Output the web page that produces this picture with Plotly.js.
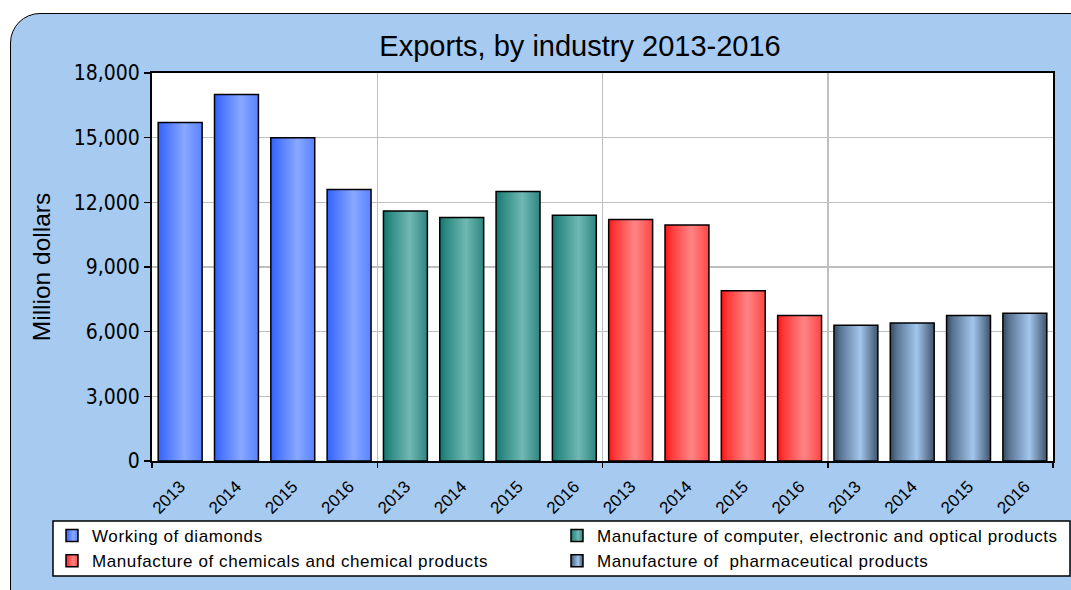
<!DOCTYPE html>
<html>
<head>
<meta charset="utf-8">
<script src="https://cdn.plot.ly/plotly-3.0.1.min.js"></script>
<style>
  html, body { margin: 0; padding: 0; width: 1071px; height: 590px; overflow: hidden; background: #ffffff; }
  #frame { position: absolute; left: 10px; top: 13px; width: 1090px; height: 610px;
           border: 1.5px solid #000; border-radius: 30px; background: #A6CAF0; box-sizing: border-box; }
  #chart { position: absolute; left: 0; top: 0; width: 1071px; height: 590px; }
  #chart .legendtext { letter-spacing: 0.6px; }
</style>
</head>
<body>
<div id="frame"></div>
<div id="chart"></div>
<script>
// ---- data ----
const years = ['2013', '2014', '2015', '2016'];
const industries = [
  'Working of diamonds',
  'Manufacture of computer, electronic and optical products',
  'Manufacture of chemicals and chemical products',
  'Manufacture of \u00a0pharmaceutical products'
];
const diamonds  = [15700, 17000, 15000, 12600];
const computers = [11600, 11300, 12500, 11400];
const chemicals = [11200, 10950, 7900, 6750];
const pharma    = [6300, 6400, 6750, 6850];
const seriesValues = [diamonds, computers, chemicals, pharma];

// ---- styling ----
const baseColors = ['#6A90FF', '#4FA39D', '#FF6060', '#8AAAD0'];
const gradientStops = [
  [[0, '#3060FF'], [0.12, '#4470FF'], [0.6, '#88A8FF'], [1, '#5A82FF']],
  [[0, '#117470'], [0.12, '#2A8780'], [0.6, '#70B8B3'], [1, '#2E8580']],
  [[0, '#FF1010'], [0.12, '#FF3535'], [0.6, '#FF8585'], [1, '#FF4545']],
  [[0, '#34485F'], [0.15, '#5A7594'], [0.6, '#A3C6EE'], [1, '#3F546C']]
];

const nPer = years.length;
const traces = seriesValues.map((vals, k) => ({
  type: 'bar',
  name: industries[k],
  x: vals.map((v, j) => k * nPer + j),
  y: vals,
  marker: { color: baseColors[k], line: { color: '#000', width: 1.5 } },
  hoverinfo: 'skip'
}));

const allIdx = [];
const allText = [];
seriesValues.forEach((vals, k) => vals.forEach((v, j) => { allIdx.push(k * nPer + j); allText.push(years[j]); }));
const total = allIdx.length;
const boundaries = [];
for (let k = 0; k <= seriesValues.length; k++) boundaries.push(k * nPer - 0.5);

// plot area in pixels: x 152..1053, y 73..461
const plotW = 901, plotH = 388, plotL = 152, plotB = 461;
const px2x = p => (p - plotL) / plotW;
const px2y = p => (plotB - p) / plotH;

const layout = {
  width: 1071, height: 590, autosize: false,
  margin: { l: 152, r: 18, t: 73, b: 129, autoexpand: false },
  paper_bgcolor: 'rgba(0,0,0,0)',
  plot_bgcolor: '#ffffff',
  barmode: 'overlay',
  bargap: 0.22,
  showlegend: true,
  title: {
    text: 'Exports, by industry 2013-2016',
    font: { family: 'Liberation Sans, Arial, sans-serif', size: 29, color: '#000' },
    xref: 'container', x: 580 / 1071, xanchor: 'center',
    yref: 'container', y: 1 - 46 / 590, yanchor: 'middle'
  },
  font: { family: 'Liberation Sans, Arial, sans-serif', color: '#000' },
  xaxis: {
    type: 'linear', range: [-0.5, total - 0.5],
    tickmode: 'array', tickvals: allIdx, ticktext: allText,
    tickangle: -45, ticks: '', showgrid: false, zeroline: false,
    ticklabelstandoff: 7,
    tickfont: { family: 'Liberation Sans, Arial, sans-serif', size: 17, color: '#000' },
    showline: true, linecolor: '#000', linewidth: 2, mirror: true,
    minor: {
      tickmode: 'array', tickvals: boundaries,
      ticks: 'outside', ticklen: 5, tickwidth: 1.5, tickcolor: '#000',
      showgrid: true, gridcolor: '#BEBEBE', gridwidth: 1.5
    }
  },
  yaxis: {
    range: [0, 18000], dtick: 3000, tick0: 0, tickformat: ',d',
    ticks: 'outside', ticklen: 6, tickwidth: 1.5, tickcolor: '#000',
    tickfont: { family: 'DejaVu Sans Condensed, DejaVu Sans, sans-serif', size: 21, color: '#000' },
    showgrid: true, gridcolor: '#BEBEBE', gridwidth: 1.5, zeroline: false,
    showline: true, linecolor: '#000', linewidth: 2, mirror: true,
    title: { text: 'Million dollars', font: { family: 'Liberation Sans, Arial, sans-serif', size: 24.5, color: '#000' }, standoff: 16 }
  },
  shapes: [{
    type: 'rect', xref: 'paper', yref: 'paper', layer: 'above',
    x0: px2x(53), x1: px2x(1070), y0: px2y(521), y1: px2y(576),
    fillcolor: '#ffffff', line: { color: '#000', width: 1.5 }
  }],
  legend: {
    orientation: 'h', traceorder: 'normal',
    x: px2x(52), xanchor: 'left',
    y: px2y(518), yanchor: 'top',
    bgcolor: 'rgba(0,0,0,0)', borderwidth: 0,
    font: { family: 'Liberation Sans, Arial, sans-serif', size: 17, color: '#000' },
    entrywidthmode: 'pixels', entrywidth: 460
  }
};

const gd = document.getElementById('chart');
Plotly.newPlot(gd, traces, layout, { staticPlot: true, displayModeBar: false }).then(() => {
  const ns = 'http://www.w3.org/2000/svg';
  const svg = gd.querySelector('svg.main-svg');
  let defs = svg.querySelector('defs');
  if (!defs) { defs = document.createElementNS(ns, 'defs'); svg.insertBefore(defs, svg.firstChild); }
  gradientStops.forEach((stops, i) => {
    const lg = document.createElementNS(ns, 'linearGradient');
    lg.setAttribute('id', 'barGrad' + i);
    lg.setAttribute('x1', '0'); lg.setAttribute('y1', '0');
    lg.setAttribute('x2', '1'); lg.setAttribute('y2', '0');
    stops.forEach(([o, c]) => {
      const s = document.createElementNS(ns, 'stop');
      s.setAttribute('offset', o);
      s.setAttribute('stop-color', c);
      lg.appendChild(s);
    });
    defs.appendChild(lg);
  });
  gd.querySelectorAll('.barlayer .trace').forEach((t, i) => {
    t.querySelectorAll('path').forEach(p => { p.style.fill = 'url(#barGrad' + i + ')'; });
  });
  gd.querySelectorAll('.legend .traces').forEach((t, i) => {
    t.querySelectorAll('.legendpoints path').forEach(p => { p.style.fill = 'url(#barGrad' + i + ')'; });
  });
});
</script>
</body>
</html>
